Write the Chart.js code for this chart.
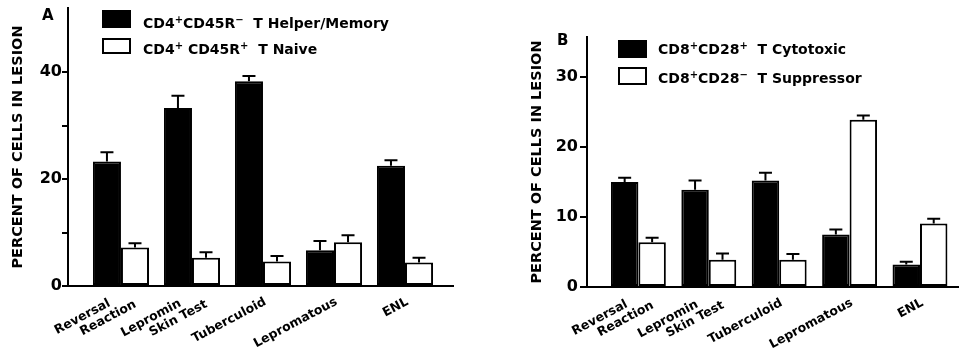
<!DOCTYPE html>
<html>
<head>
<meta charset="utf-8">
<script src="https://cdn.jsdelivr.net/npm/chart.js@4.4.1/dist/chart.umd.min.js"></script>
<style>
  html, body { margin: 0; padding: 0; background: #fff; }
  #wrap { position: relative; width: 959px; height: 350px; overflow: hidden; background: #fff; }
  canvas { position: absolute; top: 0; }
  .panel { position: absolute; font-family: "DejaVu Sans", sans-serif; font-weight: bold; font-size: 15px; line-height: 1; color: #000; }
  .box { position: absolute; box-sizing: border-box; border: 2px solid #000; }
  .ltxt { position: absolute; font-family: "DejaVu Sans", sans-serif; font-weight: bold; font-size: 14px; line-height: 1; color: #000; white-space: pre; }
  .ltxt sup { font-size: 10px; line-height: 0; vertical-align: 5px; }
</style>
</head>
<body>
<div id="wrap">
  <canvas id="cA" width="480" height="350" style="left:0"></canvas>
  <canvas id="cB" width="479" height="350" style="left:480px"></canvas>
</div>
<script>
// ---------- data ----------
const categories = [["Reversal", "Reaction"], ["Lepromin", "Skin Test"], "Tuberculoid", "Lepromatous", "ENL"];
const yTitle = "PERCENT OF CELLS IN LESION";

const seriesNamesA = ["CD4\u207aCD45R\u207b  T Helper/Memory", "CD4\u207a CD45R\u207a  T Naive"];
const helperMemory    = [23.3, 33.3, 38.3, 6.7, 22.5];
const helperMemoryErr = [1.7, 2.3, 1.0, 1.7, 1.0];
const naive           = [7.2, 5.3, 4.6, 8.2, 4.4];
const naiveErr        = [0.8, 1.0, 1.0, 1.3, 0.9];
const yTicksA  = [0, 10, 20, 30, 40];
const yLabelsA = ["0", "", "20", "", "40"];

const seriesNamesB = ["CD8\u207aCD28\u207a  T Cytotoxic", "CD8\u207aCD28\u207b  T Suppressor"];
const cytotoxic       = [15.0, 13.9, 15.2, 7.5, 3.2];
const cytotoxicErr    = [0.6, 1.3, 1.1, 0.7, 0.4];
const suppressor      = [6.4, 3.9, 3.9, 23.9, 9.05];
const suppressorErr   = [0.65, 0.9, 0.8, 0.6, 0.7];
const yTicksB  = [0, 10, 20, 30];
const yLabelsB = ["0", "10", "20", "30"];

// ---------- plugins ----------
const errorBars = {
  id: 'errorBars',
  afterDatasetsDraw(chart) {
    const ctx = chart.ctx, ys = chart.scales.y;
    chart.data.datasets.forEach((ds, di) => {
      const meta = chart.getDatasetMeta(di);
      meta.data.forEach((bar, i) => {
        const v = ds.data[i].y, e = ds.errors[i];
        const yb = ys.getPixelForValue(v), yt = ys.getPixelForValue(v + e);
        ctx.save();
        ctx.strokeStyle = '#000'; ctx.lineWidth = 2;
        ctx.beginPath();
        ctx.moveTo(bar.x, yb); ctx.lineTo(bar.x, yt);
        ctx.moveTo(bar.x - 6.5, yt); ctx.lineTo(bar.x + 6.5, yt);
        ctx.stroke();
        ctx.restore();
      });
    });
  }
};

// rotated category labels, placed from the x scale
const xLabels = {
  id: 'xLabels',
  afterDraw(chart) {
    const ctx = chart.ctx, xs = chart.scales.x, base = chart.chartArea.bottom;
    ctx.save();
    ctx.fillStyle = '#000';
    ctx.font = 'bold 12.5px "DejaVu Sans"';
    ctx.textAlign = 'right';
    ctx.textBaseline = 'alphabetic';
    categories.forEach((c, i) => {
      const cx = xs.getPixelForValue(i);
      const lines = Array.isArray(c) ? c : [c];
      const offs = lines.length > 1 ? [[-10, 19.5], [16, 20.5]] : [[4, 18]];
      lines.forEach((ln, j) => {
        ctx.save();
        ctx.translate(cx + offs[j][0], base + offs[j][1]);
        ctx.rotate(-28 * Math.PI / 180);
        ctx.fillText(ln, 0, 0);
        ctx.restore();
      });
    });
    ctx.restore();
  }
};

function pts(arr) { return arr.map((v, i) => ({ x: i, y: v })); }

function makeChart(id, cfg) {
  const black = '#000';
  return new Chart(document.getElementById(id), {
    type: 'bar',
    data: {
      datasets: [
        { data: pts(cfg.s1), errors: cfg.e1, backgroundColor: black, borderColor: black, borderWidth: 2, borderSkipped: false },
        { data: pts(cfg.s2), errors: cfg.e2, backgroundColor: '#fff', borderColor: black, borderWidth: 2, borderSkipped: false }
      ]
    },
    options: {
      responsive: false, animation: false, devicePixelRatio: 1,
      categoryPercentage: cfg.catPct, barPercentage: 1.0,
      layout: { padding: cfg.pad },
      plugins: { legend: { display: false }, tooltip: { enabled: false } },
      scales: {
        x: {
          type: 'linear', min: cfg.xmin, max: cfg.xmax, offset: false,
          afterBuildTicks: s => { s.ticks = categories.map((c, i) => ({ value: i })); },
          afterFit: s => { s.height = cfg.xh; s.paddingLeft = 0; s.paddingRight = 0; },
          ticks: { display: false },
          grid: { display: true, drawOnChartArea: false, drawTicks: false },
          border: { display: true, color: black, width: 2 }
        },
        y: {
          min: 0, max: cfg.ymax,
          afterBuildTicks: s => { s.ticks = cfg.yTicks.map(v => ({ value: v })); },
          afterFit: s => { s.width = cfg.yw; s.paddingTop = 0; s.paddingBottom = 0; },
          ticks: {
            autoSkip: false, color: black, padding: cfg.tpad,
            font: { family: 'DejaVu Sans', weight: 'bold', size: 16 },
            callback: (v, i) => cfg.yLabels[i]
          },
          grid: { display: true, drawOnChartArea: false, drawTicks: true, tickLength: cfg.tl, color: black, lineWidth: 2 },
          border: { display: true, color: black, width: 2 },
          title: {
            display: true, text: yTitle, color: black,
            font: { family: 'DejaVu Sans', weight: 'bold', size: 14.5 },
            padding: { top: cfg.titlePad, bottom: cfg.titlePad }
          }
        }
      }
    },
    plugins: [errorBars, xLabels]
  });
}

makeChart('cA', {
  s1: helperMemory, e1: helperMemoryErr, s2: naive, e2: naiveErr,
  xmin: -0.746, xmax: 4.676, ymax: 52, yTicks: yTicksA, yLabels: yLabelsA,
  pad: { left: 0, right: 27, top: 8, bottom: 0 }, xh: 64, yw: 68, tl: 6, tpad: 0, titlePad: 9.3, catPct: 0.79
});
makeChart('cB', {
  s1: cytotoxic, e1: cytotoxicErr, s2: suppressor, e2: suppressorErr,
  xmin: -0.73, xmax: 4.54, ymax: 35.7, yTicks: yTicksB, yLabels: yLabelsB,
  pad: { left: 0, right: 1, top: 37, bottom: 0 }, xh: 63, yw: 107, tl: 7, tpad: 2, titlePad: 48.3, catPct: 0.78
});

// ---------- panel letters and legends (HTML text) ----------
const wrap = document.getElementById('wrap');
function addEl(cls, style) {
  const d = document.createElement('div');
  d.className = cls;
  Object.assign(d.style, style);
  wrap.appendChild(d);
  return d;
}
function supHtml(s) {
  return s.replace(/&/g, '&amp;').replace(/</g, '&lt;')
          .replace(/\u207a/g, '<sup>+</sup>').replace(/\u207b/g, '<sup>\u2212</sup>');
}
addEl('panel', { left: '42px', top: '8px' }).textContent = 'A';
addEl('panel', { left: '557px', top: '33px' }).textContent = 'B';

function legend(names, boxLeft, boxTops, boxH, textLeft, textTops) {
  names.forEach((n, i) => {
    addEl('box', { left: boxLeft + 'px', top: boxTops[i] + 'px', width: '29px', height: boxH[i] + 'px', background: i === 0 ? '#000' : '#fff' });
    addEl('ltxt', { left: textLeft + 'px', top: textTops[i] + 'px' }).innerHTML = supHtml(n);
  });
}
legend(seriesNamesA, 102, [10, 38], [18, 16], 143, [16, 42]);
legend(seriesNamesB, 618, [40, 67], [18, 18], 658, [42, 71]);
</script>
</body>
</html>
